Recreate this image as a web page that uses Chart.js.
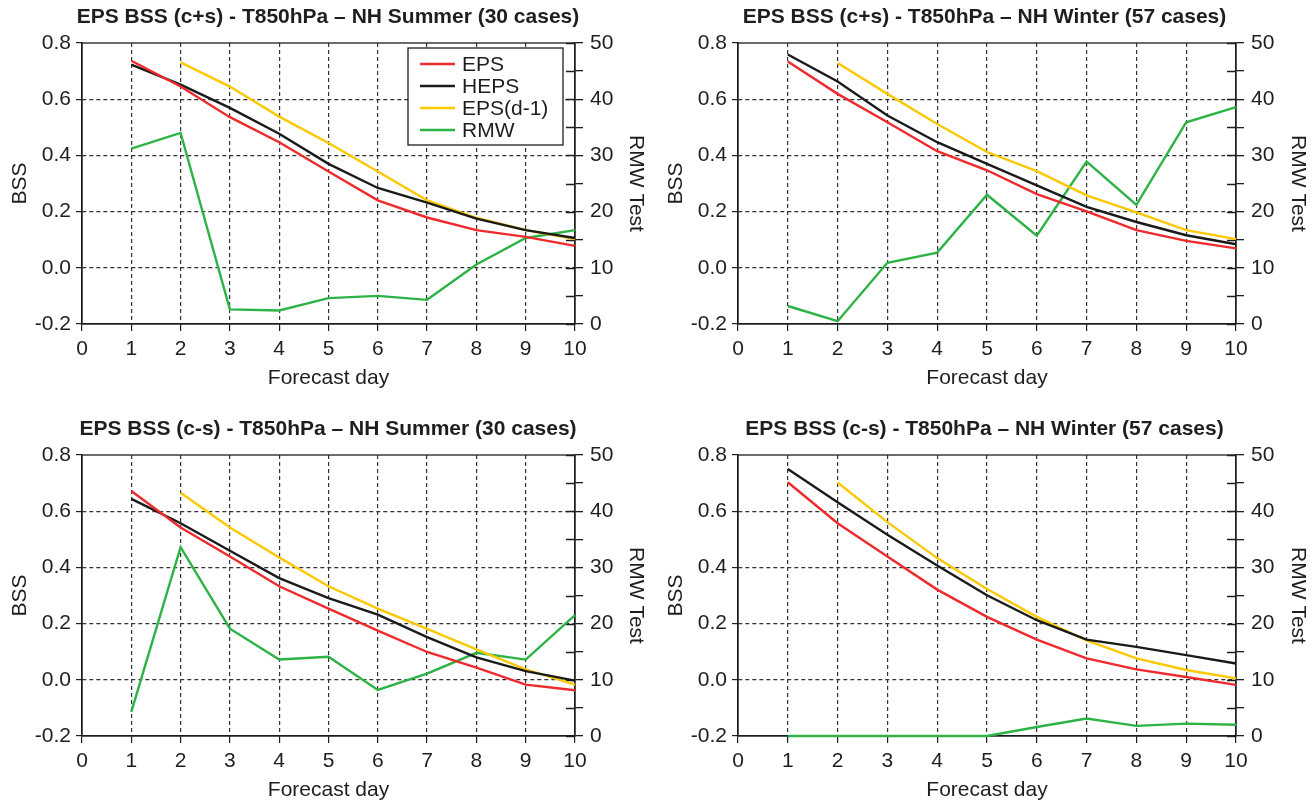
<!DOCTYPE html>
<html>
<head>
<meta charset="utf-8">
<script src="https://cdn.jsdelivr.net/npm/chart.js@4.4.1/dist/chart.umd.min.js"></script>
<style>
  body { margin: 0; background: #fff; }
  #wrap { position: relative; width: 1313px; height: 805px; overflow: hidden; }
  canvas { position: absolute; }
</style>
</head>
<body>
<div id="wrap">
  <canvas id="chart1" width="656" height="405" style="left:0;top:0;width:656px;height:405px"></canvas>
  <canvas id="chart2" width="657" height="405" style="left:656px;top:0;width:657px;height:405px"></canvas>
  <canvas id="chart3" width="656" height="393" style="left:0;top:412px;width:656px;height:393px"></canvas>
  <canvas id="chart4" width="657" height="393" style="left:656px;top:412px;width:657px;height:393px"></canvas>
</div>
<script>
// forecast days (EPS(d-1) starts one day later)
const days = [1, 2, 3, 4, 5, 6, 7, 8, 9, 10];
const daysLag = [2, 3, 4, 5, 6, 7, 8, 9, 10];
const seriesNames = ["EPS", "HEPS", "EPS(d-1)", "RMW"];

// c+s, NH summer
const sumCpEps  = [0.737, 0.645, 0.536, 0.447, 0.343, 0.240, 0.179, 0.134, 0.110, 0.078];
const sumCpHeps = [0.723, 0.652, 0.569, 0.477, 0.370, 0.284, 0.232, 0.175, 0.134, 0.106];
const sumCpLag  = [0.731, 0.645, 0.538, 0.444, 0.343, 0.240, 0.178, 0.134, 0.102];
const sumCpRmw  = [31.2, 34.0, 2.6, 2.4, 4.6, 5.0, 4.3, 10.6, 15.3, 16.7];

// c+s, NH winter
const winCpEps  = [0.734, 0.619, 0.518, 0.415, 0.347, 0.262, 0.201, 0.134, 0.096, 0.069];
const winCpHeps = [0.759, 0.663, 0.542, 0.447, 0.370, 0.293, 0.217, 0.163, 0.116, 0.084];
const winCpLag  = [0.729, 0.619, 0.512, 0.412, 0.344, 0.258, 0.197, 0.134, 0.102];
const winCpRmw  = [3.2, 0.5, 10.9, 12.7, 23.0, 15.7, 28.9, 21.2, 35.9, 38.6];

// c-s, NH summer
const sumCmEps  = [0.672, 0.542, 0.439, 0.333, 0.253, 0.175, 0.099, 0.043, -0.017, -0.037];
const sumCmHeps = [0.644, 0.557, 0.459, 0.362, 0.291, 0.232, 0.152, 0.080, 0.031, -0.003];
const sumCmLag  = [0.666, 0.542, 0.435, 0.333, 0.253, 0.181, 0.108, 0.037, -0.017];
const sumCmRmw  = [4.3, 33.6, 19.1, 13.6, 14.1, 8.2, 11.1, 14.8, 13.6, 21.5];

// c-s, NH winter
const winCmEps  = [0.703, 0.557, 0.439, 0.321, 0.224, 0.143, 0.076, 0.037, 0.010, -0.018];
const winCmHeps = [0.750, 0.632, 0.516, 0.407, 0.301, 0.212, 0.143, 0.117, 0.088, 0.058];
const winCmLag  = [0.702, 0.561, 0.433, 0.323, 0.224, 0.140, 0.076, 0.035, 0.005];
const winCmRmw  = [0, 0, 0, 0, 0, 1.6, 3.1, 1.8, 2.2, 2.0];

const colors = ["#ee2a2d", "#1a1a1a", "#fcc800", "#2db345"];
const FONT = "'Liberation Sans', Arial, sans-serif";
const INK = "#1e1e1e";
const GRID = "#333";

const pts = (xs, ys) => xs.map((x, i) => ({ x, y: ys[i] }));

// frame + ticks crossing the right axis (drawn under the lines)
const framePlugin = {
  id: "frame",
  beforeDatasetsDraw(chart) {
    const { ctx, chartArea: a } = chart;
    const y2 = chart.scales.y2;
    ctx.save();
    ctx.strokeStyle = INK;
    ctx.lineWidth = 1.3;
    ctx.strokeRect(a.left, a.top, a.right - a.left, a.bottom - a.top);
    ctx.beginPath();
    y2.ticks.forEach(t => {
      const py = Math.round(y2.getPixelForValue(t.value)) + 0.5;
      ctx.moveTo(a.right - 9, py);
      ctx.lineTo(a.right, py);
    });
    ctx.stroke();
    ctx.restore();
  }
};

// boxed legend inside the first panel
const boxLegend = {
  id: "boxLegend",
  afterDraw(chart) {
    const { ctx, chartArea: a } = chart;
    const x = a.right - 167, y = a.top + 5, w = 155, h = 97;
    ctx.save();
    ctx.fillStyle = "#fff";
    ctx.fillRect(x, y, w, h);
    ctx.strokeStyle = INK;
    ctx.lineWidth = 1.3;
    ctx.strokeRect(x, y, w, h);
    ctx.font = "21px " + FONT;
    ctx.textBaseline = "middle";
    chart.data.datasets.forEach((ds, i) => {
      const ly = y + 16 + i * 22;
      ctx.strokeStyle = ds.borderColor;
      ctx.lineWidth = 2.4;
      ctx.beginPath();
      ctx.moveTo(x + 12, ly);
      ctx.lineTo(x + 47, ly);
      ctx.stroke();
      ctx.fillStyle = INK;
      ctx.fillText(ds.label, x + 54, ly + 1);
    });
    ctx.restore();
  }
};

function makeChart(id, title, eps, heps, lag, rmw, rightW, rightTitlePad, padBottom, withLegend) {
  const ctx = document.getElementById(id);
  const lines = [pts(days, eps), pts(days, heps), pts(daysLag, lag), pts(days, rmw)];
  const datasets = lines.map((data, i) => ({
    label: seriesNames[i],
    data,
    yAxisID: i === 3 ? "y2" : "y",
    borderColor: colors[i],
    backgroundColor: colors[i],
    borderWidth: 2.4,
    pointRadius: 0,
    tension: 0,
    fill: false,
    clip: 4,
  }));
  // draw RMW below the others, like the reference
  datasets[3].order = 1;

  return new Chart(ctx, {
    type: "line",
    data: { datasets },
    plugins: withLegend ? [framePlugin, boxLegend] : [framePlugin],
    options: {
      responsive: false,
      animation: false,
      layout: { padding: { top: 0, bottom: padBottom, left: 0, right: 0 } },
      plugins: {
        legend: { display: false },
        tooltip: { enabled: false },
        title: {
          display: true,
          text: title,
          color: INK,
          font: { family: FONT, size: 21, weight: "bold" },
          padding: { top: 4.4, bottom: 13.4 },
        },
      },
      scales: {
        x: {
          type: "linear",
          min: 0,
          max: 10,
          afterFit: s => { s.height = 69; },
          ticks: { stepSize: 1, color: INK, font: { family: FONT, size: 21 }, padding: 6, maxRotation: 0 },
          grid: {
            color: c => (c.tick && (c.tick.value === 0 || c.tick.value === 10)) ? "rgba(0,0,0,0)" : GRID,
            tickColor: INK,
            tickLength: 7,
            tickBorderDash: [],
            lineWidth: 1.2,
          },
          border: { display: true, color: INK, width: 1.3, dash: [4, 3] },
          title: { display: true, text: "Forecast day", color: INK, font: { family: FONT, size: 21 }, padding: { top: 0, bottom: 2 } },
        },
        y: {
          position: "left",
          min: -0.2,
          max: 0.8,
          afterFit: s => { s.width = 82; },
          ticks: { stepSize: 0.2, color: INK, font: { family: FONT, size: 21 }, padding: 5, callback: v => Number(v).toFixed(1) },
          grid: {
            color: c => (c.tick && (Math.abs(c.tick.value - 0.8) < 1e-6 || Math.abs(c.tick.value + 0.2) < 1e-6)) ? "rgba(0,0,0,0)" : GRID,
            tickColor: INK,
            tickLength: 6,
            tickBorderDash: [],
            lineWidth: 1.2,
          },
          border: { display: true, color: INK, width: 1.3, dash: [4, 3] },
          title: { display: true, text: "BSS", color: INK, font: { family: FONT, size: 21 }, padding: { top: 8, bottom: 0 } },
        },
        y2: {
          position: "right",
          min: 0,
          max: 50,
          afterFit: s => { s.width = rightW; },
          ticks: {
            stepSize: 5,
            autoSkip: false,
            color: INK,
            font: { family: FONT, size: 21 },
            padding: 7,
            callback: v => (v % 10 === 0 ? String(v) : ""),
          },
          grid: { drawOnChartArea: false, tickColor: INK, tickLength: 8, tickBorderDash: [], lineWidth: 1.3 },
          border: { display: true, color: INK, width: 1.3 },
          title: { display: true, text: "RMW Test", color: INK, font: { family: FONT, size: 21 }, padding: { top: rightTitlePad, bottom: 0 } },
        },
      },
    },
  });
}

makeChart("chart1", "EPS BSS (c+s) - T850hPa \u2013 NH Summer (30 cases)", sumCpEps, sumCpHeps, sumCpLag, sumCpRmw, 81, 8, 12, true);
makeChart("chart2", "EPS BSS (c+s) - T850hPa \u2013 NH Winter (57 cases)", winCpEps, winCpHeps, winCpLag, winCpRmw, 77, 3, 12, false);
makeChart("chart3", "EPS BSS (c-s) - T850hPa \u2013 NH Summer (30 cases)", sumCmEps, sumCmHeps, sumCmLag, sumCmRmw, 81, 8, 0, false);
makeChart("chart4", "EPS BSS (c-s) - T850hPa \u2013 NH Winter (57 cases)", winCmEps, winCmHeps, winCmLag, winCmRmw, 77, 3, 0, false);
</script>
</body>
</html>
